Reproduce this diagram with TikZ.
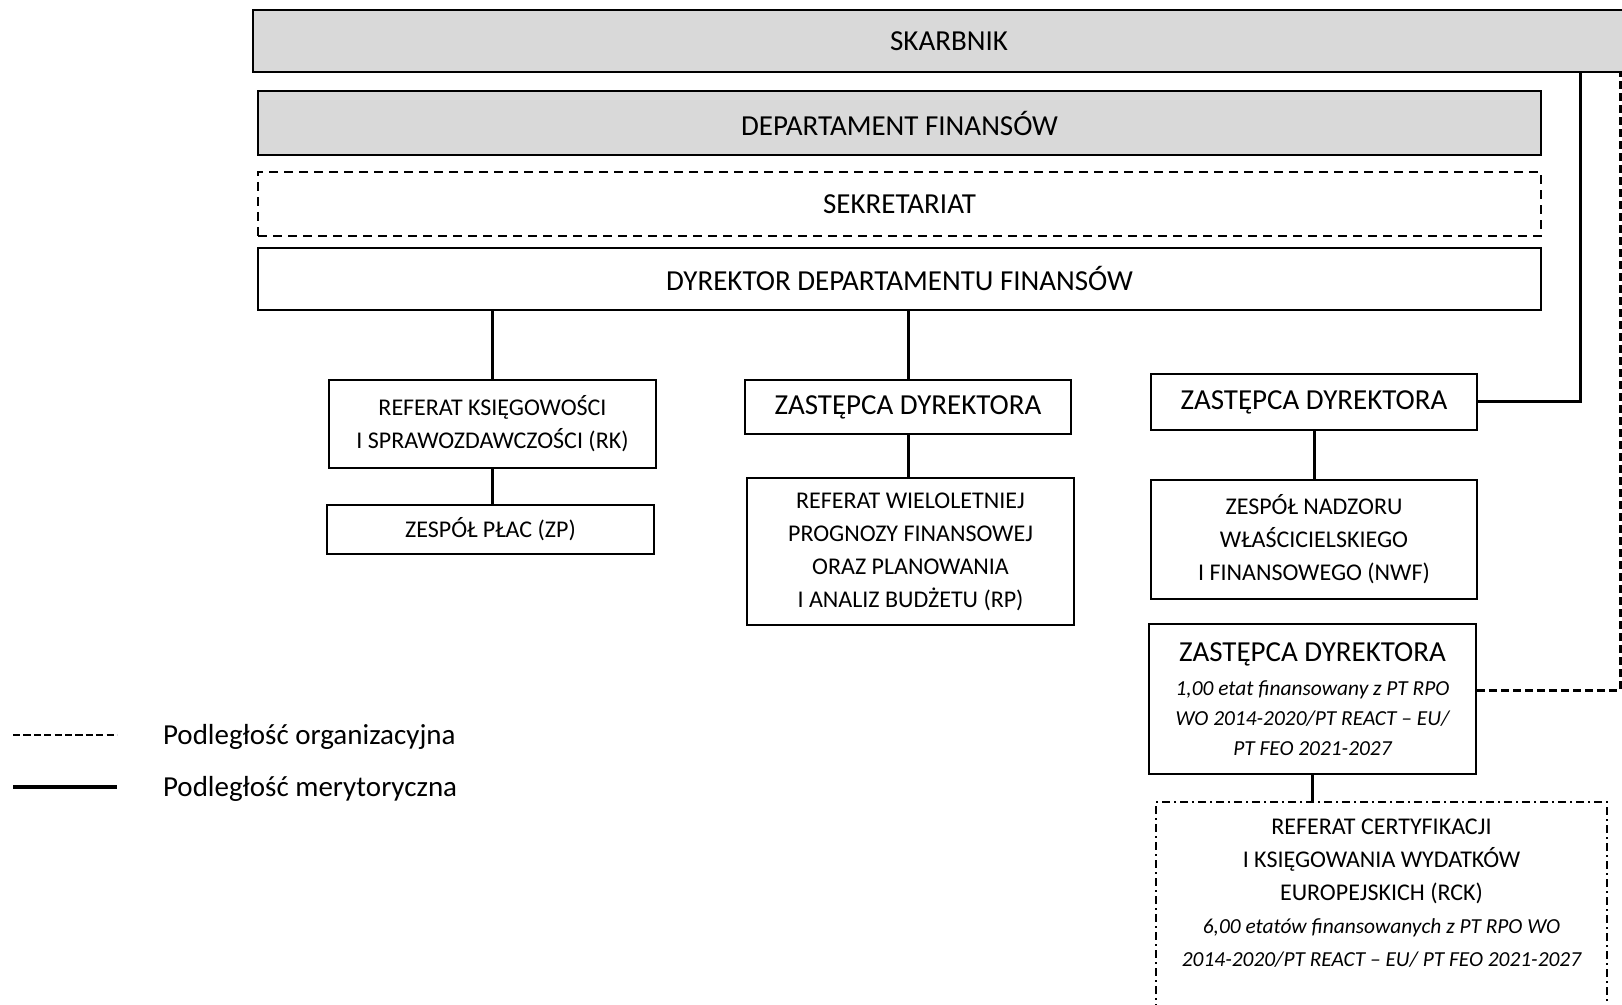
\documentclass[tikz,border=0pt]{standalone}
\usepackage{fontspec}
\setmainfont{Carlito}
\usepackage{xcolor}
\usepackage{tikz}
\usetikzlibrary{calc}
\definecolor{boxGray}{HTML}{D9D9D9}
\tikzstyle{tsLarge} = [
    text=black,
    font=\fontsize{14.5}{17}\selectfont
]
\tikzstyle{tsSmall} = [
    text=black,
    font=\fontsize{12}{16.5}\selectfont,
    align=center
]
\tikzstyle{tsItalic} = [
    text=black,
    font=\fontsize{10.7}{15}\selectfont\itshape,
    align=center
]
\tikzstyle{tsRectangle} = [
    rectangle,
    draw=black,
    line width=1pt,
    inner sep=0pt]
\tikzstyle{tsGrayBox} = [
    tsRectangle,
    tsLarge,
    fill=boxGray]
\tikzstyle{tsSolid} = [line width=1.5pt]
\tikzstyle{tsDashed} = [line width=1.5pt, dash pattern=on 4pt off 2pt]

\begin{document}
\begin{tikzpicture}[x=0.5pt, y=-0.5pt]

        \useasboundingbox (0,0) rectangle (1622,1005);
        \clip (0,0) rectangle (1622,1005);

        % top level
        \node[  tsGrayBox,
                minimum width=696pt,
                minimum height=31pt] (skarbnik) at (949,41) {SKARBNIK};

        \node[  tsGrayBox,
                minimum width=641.5pt,
                minimum height=32pt] (departament) at (899.5,123) {DEPARTAMENT FINANSÓW};

        \node[  tsRectangle,
                tsLarge,
                dash pattern=on 4.5pt off 3pt,
                minimum width=641.5pt,
                minimum height=32pt] (sekretariat) at (899.5,204) {SEKRETARIAT};

        \node[  tsRectangle,
                tsLarge,
                minimum width=641.5pt,
                minimum height=31pt] (dyrektor) at (899.5,279) {DYREKTOR DEPARTAMENTU FINANSÓW};

        % left column
        \node[  tsRectangle,
                tsSmall,
                minimum width=163.5pt,
                minimum height=44pt] (rk) at (492.5,424) {REFERAT KSIĘGOWOŚCI\\I SPRAWOZDAWCZOŚCI (RK)};

        \node[  tsRectangle,
                tsSmall,
                minimum width=163.5pt,
                minimum height=24.5pt] (zp) at (490.5,529.5) {ZESPÓŁ PŁAC (ZP)};

        % middle column
        \node[  tsRectangle,
                tsLarge,
                minimum width=163pt,
                minimum height=27pt] (zastepcaA) at (908,407) {ZASTĘPCA DYREKTORA};

        \node[  tsRectangle,
                tsSmall,
                minimum width=163.5pt,
                minimum height=73.5pt] (rp) at (910.5,551.5) {REFERAT WIELOLETNIEJ\\PROGNOZY FINANSOWEJ\\ORAZ PLANOWANIA\\I ANALIZ BUDŻETU (RP)};

        % right column
        \node[  tsRectangle,
                tsLarge,
                minimum width=163pt,
                minimum height=28pt] (zastepcaB) at (1314,402) {ZASTĘPCA DYREKTORA};

        \node[  tsRectangle,
                tsSmall,
                minimum width=163pt,
                minimum height=59.5pt] (nwf) at (1314,539.5) {ZESPÓŁ NADZORU\\WŁAŚCICIELSKIEGO\\I FINANSOWEGO (NWF)};

        \node[  tsRectangle,
                tsItalic,
                minimum width=163.5pt,
                minimum height=75pt] (zastepcaC) at (1312.5,699) {{\fontsize{14.5}{17}\selectfont\upshape ZASTĘPCA DYREKTORA}\\[2pt]1,00 etat finansowany z PT RPO\\WO 2014-2020/PT REACT – EU/\\PT FEO 2021-2027};

        \node[  tsRectangle,
                dash pattern=on 4pt off 2pt on 1pt off 2pt,
                minimum width=225.5pt,
                minimum height=150pt,
                anchor=north] (rck) at (1381.5,801) {};
        \node[  tsSmall] (rckText) at (1381.5,893) {REFERAT CERTYFIKACJI\\I KSIĘGOWANIA WYDATKÓW\\EUROPEJSKICH (RCK)\\{\fontsize{10.7}{15}\selectfont\itshape 6,00 etatów finansowanych z PT RPO WO}\\{\fontsize{10.7}{15}\selectfont\itshape 2014-2020/PT REACT – EU/ PT FEO 2021-2027}};

        % connectors
        \coordinate (solidTop) at (1580,72);
        \coordinate (dashTop) at (1620,72);

        \draw[tsSolid] (rk.north) -- (rk.north |- dyrektor.south);
        \draw[tsSolid] (zastepcaA.north) -- (zastepcaA.north |- dyrektor.south);
        \draw[tsSolid] (rk.south) -- (rk.south |- zp.north);
        \draw[tsSolid] (zastepcaA.south) -- (zastepcaA.south |- rp.north);
        \draw[tsSolid] (zastepcaB.south) -- (zastepcaB.south |- nwf.north);
        \draw[tsSolid] (zastepcaB.east) -| (solidTop |- skarbnik.south);
        \draw[tsDashed] ([yshift=4.5pt]zastepcaC.east) -| (dashTop |- skarbnik.south);
        \draw[tsSolid] (zastepcaC.south) -- (zastepcaC.south |- rck.north);

        % legend
        \coordinate (legDashA) at (13,735);
        \coordinate (legDashB) at (117,735);
        \coordinate (legSolidA) at (13,787);
        \coordinate (legSolidB) at (117,787);
        \draw[line width=1.2pt, dash pattern=on 3.6pt off 1.6pt] (legDashA) -- (legDashB);
        \draw[line width=2pt] (legSolidA) -- (legSolidB);
        \node[tsLarge, anchor=west] (legOrg) at (156,737) {Podległość organizacyjna};
        \node[tsLarge, anchor=west] (legMer) at (156,789) {Podległość merytoryczna};

\end{tikzpicture}
\end{document}
